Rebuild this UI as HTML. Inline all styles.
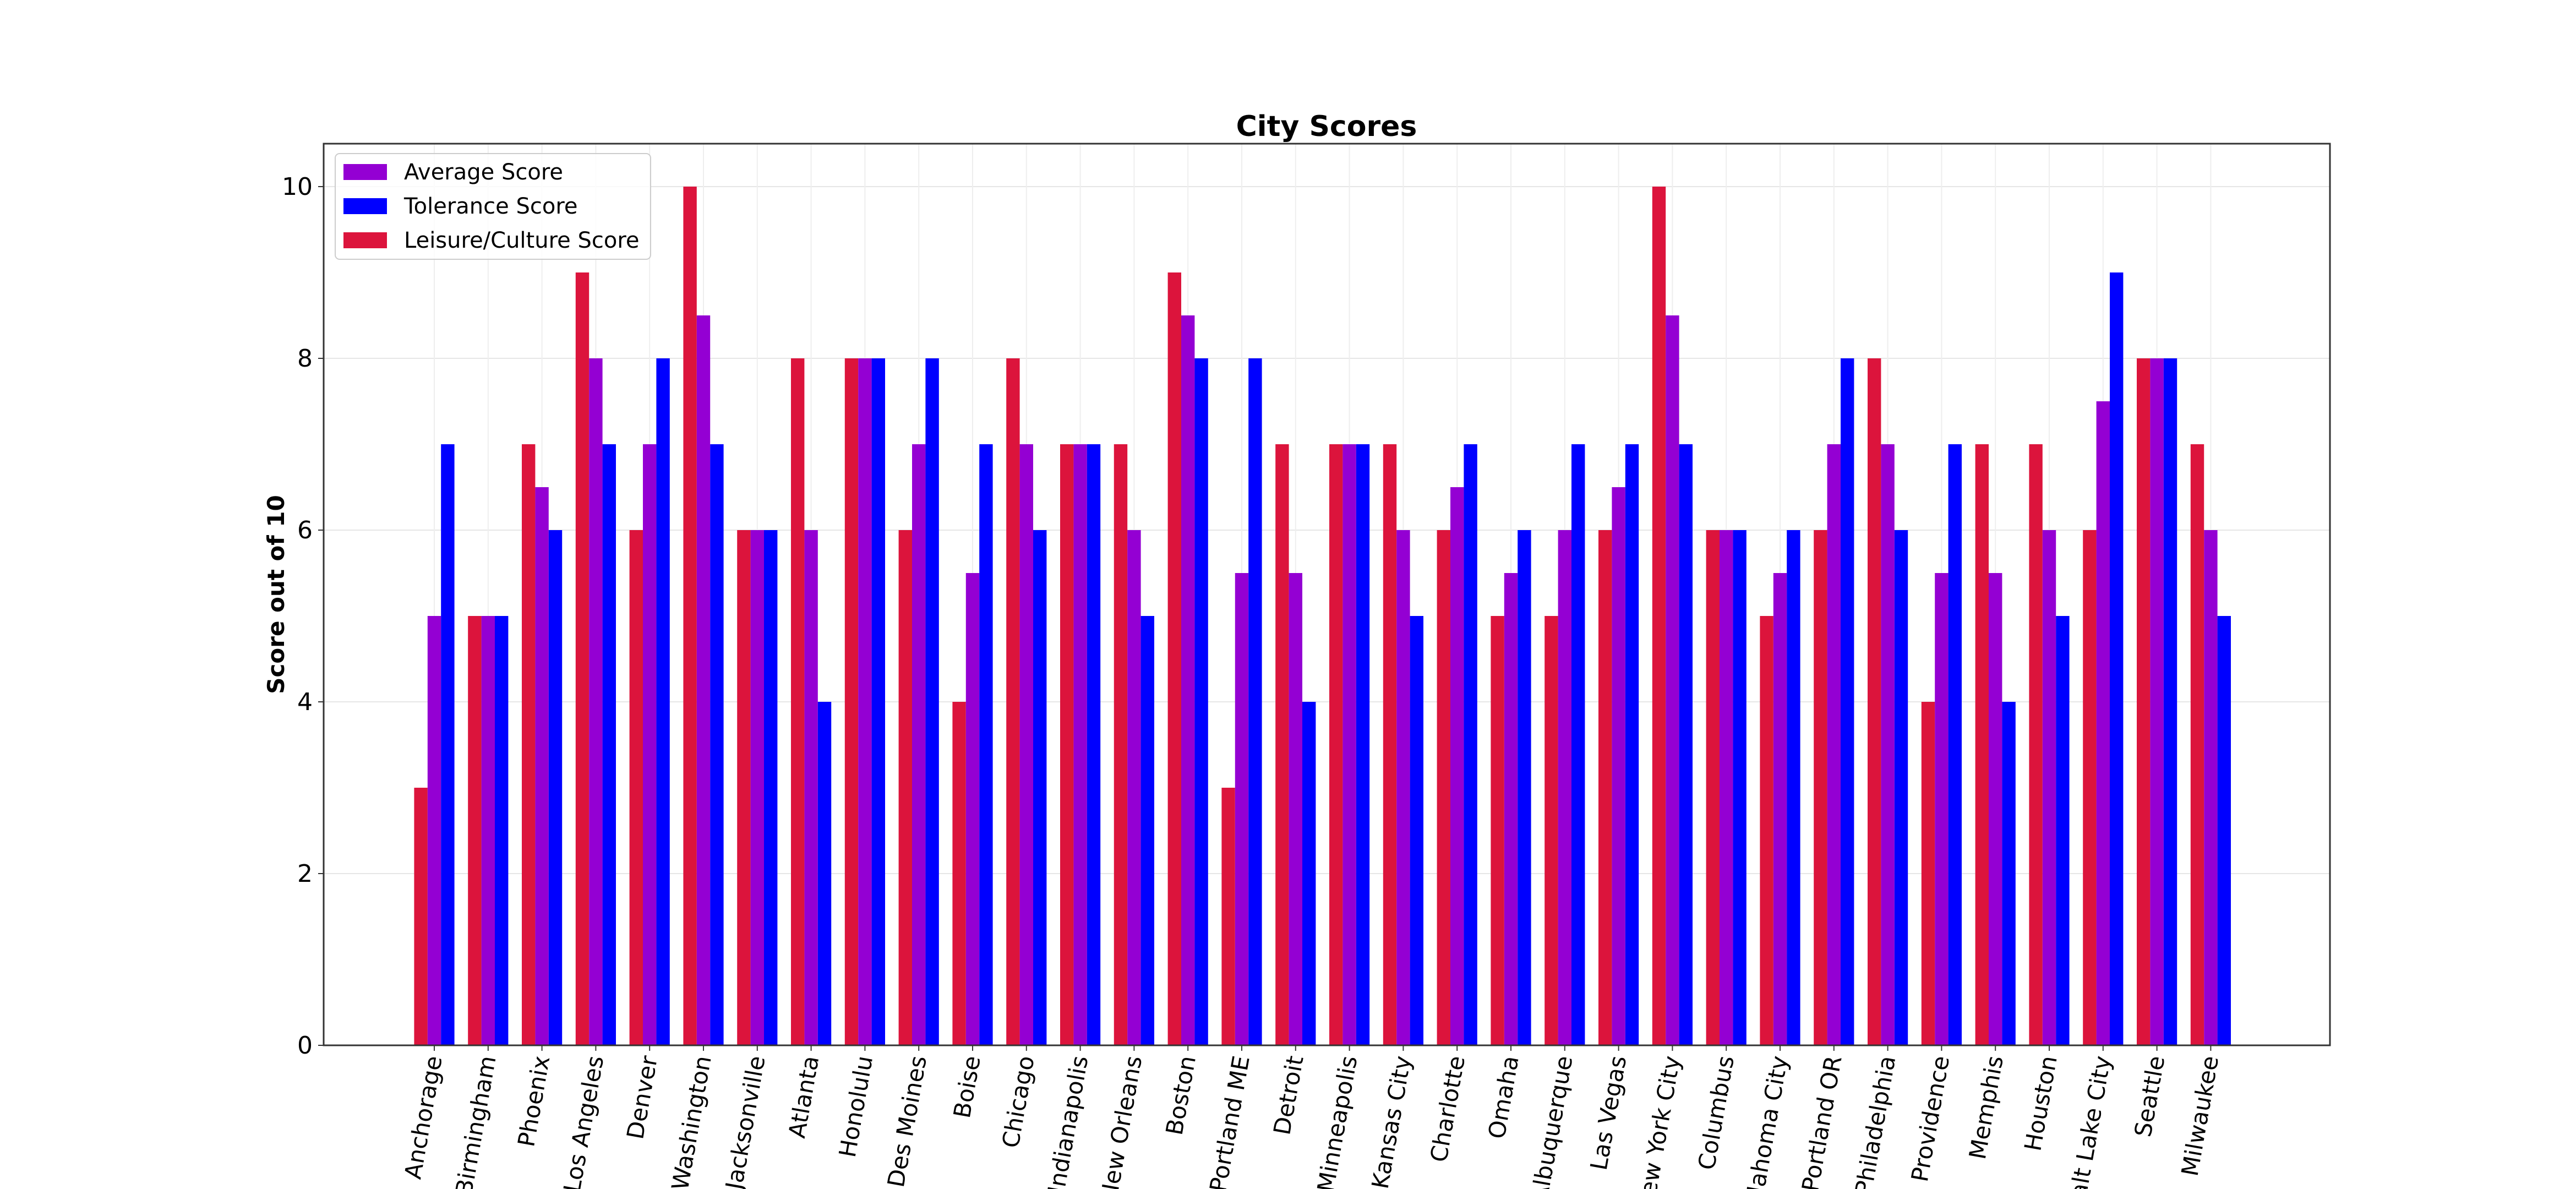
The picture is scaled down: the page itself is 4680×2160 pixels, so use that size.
<!DOCTYPE html>
<html><head><meta charset="utf-8"><style>
html,body{margin:0;padding:0;background:#fff;}
svg{display:block;font-family:"DejaVu Sans","Liberation Sans",sans-serif;}
</style></head><body>
<svg id="chart" width="4680" height="2160" viewBox="0 0 4680 2160" xmlns="http://www.w3.org/2000/svg">
<rect width="4680" height="2160" fill="#fff"/>
<g id="grid"></g>
<g id="bars"></g>
<rect x="588" y="261" width="3645" height="1638" fill="none" stroke="#333" stroke-width="3"/>
<g id="ticks"></g>
<text x="2410" y="247" text-anchor="middle" font-size="52" font-weight="bold">City Scores</text>
<text transform="translate(516,1080) rotate(-90)" text-anchor="middle" font-size="42" font-weight="bold">Score out of 10</text>
<g>
<rect x="609" y="279" width="573" height="192" rx="8" fill="#fff" fill-opacity="0.8" stroke="#ccc" stroke-width="2"/>
<g><rect x="624" y="298" width="79" height="29" fill="#9400D3"/><text x="734" y="326" font-size="40">Average Score</text></g>
<g><rect x="624" y="360" width="79" height="29" fill="#0000FF"/><text x="734" y="388" font-size="40">Tolerance Score</text></g>
<g><rect x="624" y="422" width="79" height="29" fill="#DC143C"/><text x="734" y="450" font-size="40">Leisure/Culture Score</text></g>
</g>
</svg>
<script>
const cities = ["Anchorage","Birmingham","Phoenix","Los Angeles","Denver","Washington","Jacksonville","Atlanta","Honolulu","Des Moines","Boise","Chicago","Indianapolis","New Orleans","Boston","Portland ME","Detroit","Minneapolis","Kansas City","Charlotte","Omaha","Albuquerque","Las Vegas","New York City","Columbus","Oklahoma City","Portland OR","Philadelphia","Providence","Memphis","Houston","Salt Lake City","Seattle","Milwaukee"];
const leisure = [3,5,7,9,6,10,6,8,8,6,4,8,7,7,9,3,7,7,7,6,5,5,6,10,6,5,6,8,4,7,7,6,8,7];
const average = [5,5,6.5,8,7,8.5,6,6,8,7,5.5,7,7,6,8.5,5.5,5.5,7,6,6.5,5.5,6,6.5,8.5,6,5.5,7,7,5.5,5.5,6,7.5,8,6];
const tolerance = [7,5,6,7,8,7,6,4,8,8,7,6,7,5,8,8,4,7,5,7,6,7,7,7,6,6,8,6,7,4,5,9,8,5];
const yTicks = [0,2,4,6,8,10];

const NS="http://www.w3.org/2000/svg";
const L=588,R=4233,T=261,B=1899;
const x0=789, step=97.8, bw=24.4;
function xs(i){return x0+step*i;}
function ys(v){return B-(B-339)*v/10;}
function mk(tag,attrs,parent){const e=document.createElementNS(NS,tag);for(const k in attrs)e.setAttribute(k,attrs[k]);parent.appendChild(e);return e;}
const grid=document.getElementById('grid'),bars=document.getElementById('bars'),ticks=document.getElementById('ticks');
yTicks.forEach(v=>{
  const g=mk('line',{x1:L,x2:R,y1:ys(v),y2:ys(v),stroke:'#e6e6e6','stroke-width':2},grid);
  
  
  const t=mk('line',{x1:L-10,x2:L,y1:ys(v),y2:ys(v),stroke:'#333','stroke-width':2},ticks);
  
  
  const lb=mk('text',{x:L-20,y:ys(v)+15,'text-anchor':'end','font-size':44},ticks);
  lb.textContent=v;
  
  
});
cities.forEach((c,i)=>{
  const cx=xs(i);
  const g=mk('line',{x1:cx,x2:cx,y1:T,y2:B,stroke:'#eeeeee','stroke-width':2},grid);
  
  
  [[leisure,'#DC143C',-1,'bar-leisure'],[average,'#9400D3',0,'bar-average'],[tolerance,'#0000FF',1,'bar-tolerance']].forEach(([arr,col,off,nm])=>{
    const v=arr[i];
    const r=mk('rect',{x:cx+off*bw-bw/2,y:ys(v),width:bw,height:B-ys(v),fill:col},bars);
    
    
  });
  const t=mk('line',{x1:cx,x2:cx,y1:B,y2:B+10,stroke:'#333','stroke-width':2},ticks);
  
  
  const lb=mk('text',{transform:`translate(${cx+14},${B+22}) rotate(-80)`,'text-anchor':'end','font-size':42},ticks);
  lb.textContent=c;
  
  
});
</script>
</body></html>
